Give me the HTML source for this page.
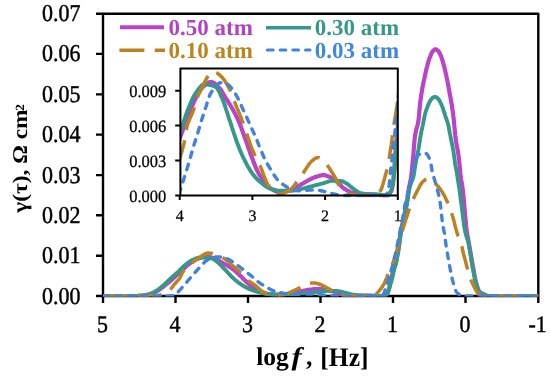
<!DOCTYPE html>
<html><head><meta charset="utf-8"><style>
html,body{margin:0;padding:0;background:#fff;}
svg{display:block;}
text{text-rendering:geometricPrecision;font-family:"Liberation Serif","Times New Roman",serif;}
</style></head><body>
<svg width="550" height="383" viewBox="0 0 550 383">
<rect x="0" y="0" width="550" height="383" fill="#fff"/>
<defs>
<clipPath id="cm"><rect x="103" y="10" width="435.3" height="286.6"/></clipPath>
<clipPath id="ci"><rect x="180.4" y="68.4" width="217.4" height="129"/></clipPath>
</defs>
<!-- main frame -->
<g stroke="#000" stroke-width="2.4" fill="none" stroke-linejoin="round">
<path d="M103 296 V13.8 H538.3 V296 M103 296 H538.3"/>
<path d="M96 13.8H103M96 53.9H103M96 94.4H103M96 134.6H103M96 175.1H103M96 215.3H103M96 255.7H103M96 296H103"/>
<path d="M103 296V303M175.5 296V303M248 296V303M320.5 296V303M393 296V303M465.5 296V303M538.3 296V303"/>
</g>
<g clip-path="url(#cm)">
<path d="M103.0 296.0L103.7 296.0 104.4 296.0 105.2 296.0 105.9 296.0 106.6 296.0 107.3 296.0 108.1 296.0 108.8 296.0 109.5 296.0 110.2 296.0 111.0 296.0 111.7 296.0 112.4 296.0 113.1 296.0 113.9 296.0 114.6 296.0 115.3 296.0 116.0 296.0 116.8 296.0 117.5 296.0 118.2 296.0 118.9 296.0 119.7 296.0 120.4 296.0 121.1 296.0 121.8 296.0 122.6 296.0 123.3 296.0 124.0 296.0 124.7 296.0 125.5 296.0 126.2 296.0 126.9 296.0 127.6 296.0 128.4 296.0 129.1 296.0 129.8 296.0 130.5 296.0 131.3 296.0 132.0 296.0 132.7 296.0 133.4 296.0 134.2 296.0 134.9 296.0 135.6 296.0 136.3 296.0 137.1 296.0 137.8 295.9 138.5 295.9 139.2 295.8 140.0 295.8 140.7 295.7 141.4 295.6 142.1 295.6 142.9 295.5 143.6 295.4 144.3 295.3 145.0 295.2 145.8 295.1 146.5 295.0 147.2 294.8 147.9 294.6 148.7 294.5 149.4 294.3 150.1 294.0 150.8 293.8 151.6 293.6 152.3 293.3 153.0 293.0 153.7 292.8 154.5 292.5 155.2 292.1 155.9 291.8 156.6 291.4 157.4 291.0 158.1 290.5 158.8 290.0 159.5 289.5 160.3 289.0 161.0 288.5 161.7 287.9 162.4 287.4 163.2 286.8 163.9 286.2 164.6 285.6 165.3 285.0 166.1 284.4 166.8 283.9 167.5 283.3 168.2 282.7 169.0 282.1 169.7 281.5 170.4 280.9 171.1 280.2 171.9 279.6 172.6 278.9 173.3 278.2 174.0 277.6 174.8 276.9 175.5 276.2 176.2 275.6 176.9 274.9 177.7 274.2 178.4 273.6 179.1 272.9 179.8 272.2 180.6 271.5 181.3 270.9 182.0 270.2 182.7 269.5 183.5 268.9 184.2 268.2 184.9 267.6 185.6 266.9 186.4 266.3 187.1 265.6 187.8 265.0 188.5 264.4 189.3 263.9 190.0 263.3 190.7 262.8 191.4 262.3 192.2 261.8 192.9 261.3 193.6 260.8 194.3 260.3 195.1 259.9 195.8 259.5 196.5 259.2 197.2 258.9 198.0 258.7 198.7 258.4 199.4 258.2 200.1 257.9 200.9 257.7 201.6 257.5 202.3 257.3 203.0 257.1 203.8 257.0 204.5 256.9 205.2 256.8 205.9 256.7 206.7 256.7 207.4 256.7 208.1 256.8 208.8 256.9 209.6 257.0 210.3 257.2 211.0 257.4 211.7 257.6 212.5 257.9 213.2 258.1 213.9 258.4 214.6 258.7 215.4 258.9 216.1 259.2 216.8 259.6 217.5 260.0 218.3 260.4 219.0 260.8 219.7 261.3 220.4 261.7 221.2 262.1 221.9 262.5 222.6 262.9 223.3 263.3 224.1 263.7 224.8 264.1 225.5 264.5 226.2 264.9 227.0 265.3 227.7 265.7 228.4 266.2 229.1 266.6 229.9 267.1 230.6 267.6 231.3 268.1 232.0 268.6 232.8 269.1 233.5 269.6 234.2 270.2 234.9 270.8 235.7 271.4 236.4 272.1 237.1 272.7 237.8 273.4 238.6 274.1 239.3 274.8 240.0 275.6 240.7 276.2 241.5 276.9 242.2 277.7 242.9 278.4 243.6 279.1 244.4 279.8 245.1 280.6 245.8 281.3 246.5 282.0 247.3 282.6 248.0 283.3 248.7 284.0 249.4 284.6 250.2 285.3 250.9 285.9 251.6 286.5 252.3 287.0 253.1 287.5 253.8 288.0 254.5 288.5 255.2 288.9 256.0 289.3 256.7 289.7 257.4 290.1 258.1 290.5 258.9 290.8 259.6 291.2 260.3 291.5 261.0 291.8 261.8 292.1 262.5 292.4 263.2 292.6 263.9 292.9 264.7 293.1 265.4 293.3 266.1 293.5 266.8 293.7 267.6 293.9 268.3 294.0 269.0 294.1 269.7 294.3 270.5 294.4 271.2 294.5 271.9 294.6 272.6 294.7 273.4 294.7 274.1 294.8 274.8 294.8 275.5 294.8 276.3 294.8 277.0 294.7 277.7 294.7 278.4 294.7 279.2 294.6 279.9 294.6 280.6 294.5 281.3 294.5 282.1 294.4 282.8 294.4 283.5 294.3 284.2 294.3 285.0 294.2 285.7 294.1 286.4 294.0 287.1 293.9 287.9 293.8 288.6 293.6 289.3 293.5 290.0 293.4 290.8 293.3 291.5 293.2 292.2 293.1 292.9 292.9 293.7 292.8 294.4 292.6 295.1 292.5 295.8 292.3 296.6 292.2 297.3 292.0 298.0 291.9 298.7 291.7 299.5 291.6 300.2 291.4 300.9 291.3 301.6 291.2 302.4 291.0 303.1 290.9 303.8 290.7 304.5 290.6 305.3 290.5 306.0 290.3 306.7 290.2 307.4 290.1 308.2 289.9 308.9 289.8 309.6 289.7 310.3 289.6 311.1 289.6 311.8 289.5 312.5 289.4 313.2 289.3 314.0 289.2 314.7 289.2 315.4 289.1 316.1 289.1 316.9 289.0 317.6 289.0 318.3 289.0 319.0 288.9 319.8 289.0 320.5 289.0 321.2 289.1 321.9 289.1 322.7 289.2 323.4 289.3 324.1 289.4 324.8 289.6 325.6 289.7 326.3 289.8 327.0 289.9 327.7 290.1 328.5 290.2 329.2 290.4 329.9 290.6 330.6 290.8 331.4 291.0 332.1 291.2 332.8 291.4 333.5 291.6 334.3 291.8 335.0 292.1 335.7 292.4 336.4 292.7 337.2 292.9 337.9 293.2 338.6 293.4 339.3 293.6 340.1 293.7 340.8 293.9 341.5 294.1 342.2 294.2 343.0 294.3 343.7 294.5 344.4 294.6 345.1 294.7 345.9 294.8 346.6 294.9 347.3 295.0 348.0 295.1 348.8 295.2 349.5 295.2 350.2 295.2 350.9 295.3 351.7 295.3 352.4 295.3 353.1 295.3 353.8 295.4 354.6 295.4 355.3 295.4 356.0 295.4 356.7 295.4 357.5 295.5 358.2 295.5 358.9 295.5 359.6 295.5 360.4 295.5 361.1 295.5 361.8 295.5 362.5 295.6 363.3 295.6 364.0 295.6 364.7 295.6 365.4 295.6 366.2 295.7 366.9 295.7 367.6 295.7 368.3 295.7 369.1 295.7 369.8 295.8 370.5 295.8 371.2 295.8 372.0 295.8 372.7 295.8 373.4 295.8 374.1 295.9 374.9 295.9 375.6 295.9 376.3 295.9 377.0 295.9 377.8 295.9 378.5 296.0 379.2 296.0 379.9 296.0 380.7 296.0 381.4 296.0 382.1 296.0 382.8 296.0 383.6 295.9 384.3 295.7 385.0 295.3 385.7 294.9 386.5 294.4 387.2 293.7 387.9 292.5 388.6 290.6 389.4 287.0 390.1 283.5 390.8 280.1 391.5 277.2 392.3 274.6 393.0 272.2 393.7 269.8 394.4 267.6 395.2 265.5 395.9 262.9 396.6 259.5 397.3 255.3 398.1 250.7 398.8 246.0 399.5 240.8 400.2 235.6 401.0 231.1 401.7 227.4 402.4 224.0 403.1 220.7 403.9 217.2 404.6 213.8 405.3 210.2 406.0 206.5 406.8 202.4 407.5 197.7 408.2 192.7 408.9 188.0 409.7 184.4 410.4 181.3 411.1 177.6 411.8 170.9 412.6 162.1 413.3 155.6 414.0 146.2 414.7 138.3 415.5 133.1 416.2 129.6 416.9 127.5 417.6 125.2 418.4 120.9 419.1 114.5 419.8 106.7 420.5 100.1 421.3 94.7 422.0 90.3 422.7 86.4 423.4 82.9 424.2 79.4 424.9 75.9 425.6 72.6 426.3 69.4 427.1 66.6 427.8 63.8 428.5 61.3 429.2 59.0 430.0 57.0 430.7 55.2 431.4 53.5 432.1 52.1 432.9 51.2 433.6 50.5 434.3 49.8 435.0 49.4 435.8 49.3 436.5 49.6 437.2 50.1 437.9 50.7 438.7 51.5 439.4 52.6 440.1 54.1 440.8 55.9 441.6 57.8 442.3 59.9 443.0 62.3 443.7 64.9 444.5 67.7 445.2 70.7 445.9 73.9 446.6 77.3 447.4 80.8 448.1 84.5 448.8 88.4 449.5 92.5 450.3 96.4 451.0 100.3 451.7 104.4 452.4 109.2 453.2 114.6 453.9 121.3 454.6 128.4 455.3 135.5 456.1 141.6 456.8 145.7 457.5 149.2 458.2 153.3 459.0 159.4 459.7 166.4 460.4 173.8 461.1 179.3 461.9 183.7 462.6 188.3 463.3 194.3 464.0 202.4 464.8 211.0 465.5 219.0 466.2 226.8 466.9 232.4 467.7 236.7 468.4 240.5 469.1 244.4 469.8 248.6 470.6 252.9 471.3 257.2 472.0 261.4 472.7 265.3 473.5 269.4 474.2 273.4 474.9 277.2 475.6 280.7 476.4 283.5 477.1 286.0 477.8 288.2 478.5 290.1 479.3 291.4 480.0 292.1 480.7 292.7 481.4 293.1 482.2 293.5 482.9 293.8 483.6 294.1 484.3 294.5 485.1 294.9 485.8 295.3 486.5 295.6 487.2 295.9 488.0 296.0 488.7 296.0 489.4 296.0 490.1 296.0 490.9 296.0 491.6 296.0 492.3 296.0 493.0 296.0 493.8 296.0 494.5 296.0 495.2 296.0 495.9 296.0 496.7 296.0 497.4 296.0 498.1 296.0 498.8 296.0 499.6 296.0 500.3 296.0 501.0 296.0 501.7 296.0 502.5 296.0 503.2 296.0 503.9 296.0 504.6 296.0 505.4 296.0 506.1 296.0 506.8 296.0 507.5 296.0 508.3 296.0 509.0 296.0 509.7 296.0 510.4 296.0 511.2 296.0 511.9 296.0 512.6 296.0 513.3 296.0 514.1 296.0 514.8 296.0 515.5 296.0 516.2 296.0 517.0 296.0 517.7 296.0 518.4 296.0 519.1 296.0 519.9 296.0 520.6 296.0 521.3 296.0 522.0 296.0 522.8 296.0 523.5 296.0 524.2 296.0 524.9 296.0 525.7 296.0 526.4 296.0 527.1 296.0 527.8 296.0 528.6 296.0 529.3 296.0 530.0 296.0 530.7 296.0 531.5 296.0 532.2 296.0 532.9 296.0 533.6 296.0 534.4 296.0 535.1 296.0 535.8 296.0 536.5 296.0 537.3 296.0 538.0 296.0" fill="none" stroke="#bc43c9" stroke-width="4.2" stroke-linejoin="round" stroke-linecap="round"/>
<path d="M103.0 296.0L103.7 296.0 104.4 296.0 105.2 296.0 105.9 296.0 106.6 296.0 107.3 296.0 108.1 296.0 108.8 296.0 109.5 296.0 110.2 296.0 111.0 296.0 111.7 296.0 112.4 296.0 113.1 296.0 113.9 296.0 114.6 296.0 115.3 296.0 116.0 296.0 116.8 296.0 117.5 296.0 118.2 296.0 118.9 296.0 119.7 296.0 120.4 296.0 121.1 296.0 121.8 296.0 122.6 296.0 123.3 296.0 124.0 296.0 124.7 296.0 125.5 296.0 126.2 296.0 126.9 296.0 127.6 296.0 128.4 296.0 129.1 296.0 129.8 296.0 130.5 296.0 131.3 296.0 132.0 296.0 132.7 296.0 133.4 296.0 134.2 296.0 134.9 296.0 135.6 295.9 136.3 295.9 137.1 295.9 137.8 295.9 138.5 295.8 139.2 295.8 140.0 295.8 140.7 295.7 141.4 295.7 142.1 295.6 142.9 295.6 143.6 295.5 144.3 295.5 145.0 295.4 145.8 295.2 146.5 295.1 147.2 294.9 147.9 294.8 148.7 294.6 149.4 294.4 150.1 294.1 150.8 293.8 151.6 293.5 152.3 293.1 153.0 292.7 153.7 292.3 154.5 291.9 155.2 291.4 155.9 291.0 156.6 290.6 157.4 290.1 158.1 289.6 158.8 289.0 159.5 288.5 160.3 287.9 161.0 287.3 161.7 286.7 162.4 286.1 163.2 285.5 163.9 284.9 164.6 284.2 165.3 283.6 166.1 282.9 166.8 282.2 167.5 281.5 168.2 280.7 169.0 280.0 169.7 279.3 170.4 278.7 171.1 278.0 171.9 277.4 172.6 276.7 173.3 276.1 174.0 275.5 174.8 274.8 175.5 274.2 176.2 273.5 176.9 272.9 177.7 272.2 178.4 271.5 179.1 270.8 179.8 270.0 180.6 269.3 181.3 268.5 182.0 267.8 182.7 267.1 183.5 266.4 184.2 265.8 184.9 265.2 185.6 264.6 186.4 264.0 187.1 263.4 187.8 262.8 188.5 262.3 189.3 261.8 190.0 261.3 190.7 260.9 191.4 260.5 192.2 260.2 192.9 259.8 193.6 259.5 194.3 259.1 195.1 258.8 195.8 258.5 196.5 258.2 197.2 258.0 198.0 257.8 198.7 257.6 199.4 257.5 200.1 257.5 200.9 257.5 201.6 257.5 202.3 257.6 203.0 257.6 203.8 257.6 204.5 257.7 205.2 257.7 205.9 257.8 206.7 257.8 207.4 257.9 208.1 257.9 208.8 258.0 209.6 258.1 210.3 258.2 211.0 258.4 211.7 258.5 212.5 258.7 213.2 259.0 213.9 259.4 214.6 259.9 215.4 260.4 216.1 261.0 216.8 261.6 217.5 262.1 218.3 262.7 219.0 263.4 219.7 264.1 220.4 264.8 221.2 265.5 221.9 266.3 222.6 267.1 223.3 267.9 224.1 268.7 224.8 269.5 225.5 270.2 226.2 270.9 227.0 271.7 227.7 272.5 228.4 273.2 229.1 274.0 229.9 274.8 230.6 275.6 231.3 276.3 232.0 277.0 232.8 277.7 233.5 278.4 234.2 279.1 234.9 279.7 235.7 280.3 236.4 280.9 237.1 281.5 237.8 282.0 238.6 282.6 239.3 283.1 240.0 283.7 240.7 284.2 241.5 284.6 242.2 285.1 242.9 285.6 243.6 286.0 244.4 286.5 245.1 286.9 245.8 287.3 246.5 287.7 247.3 288.1 248.0 288.4 248.7 288.7 249.4 289.1 250.2 289.4 250.9 289.6 251.6 289.9 252.3 290.2 253.1 290.4 253.8 290.7 254.5 290.9 255.2 291.2 256.0 291.4 256.7 291.6 257.4 291.8 258.1 292.0 258.9 292.2 259.6 292.4 260.3 292.6 261.0 292.8 261.8 292.9 262.5 293.1 263.2 293.2 263.9 293.4 264.7 293.5 265.4 293.6 266.1 293.7 266.8 293.7 267.6 293.8 268.3 293.9 269.0 294.0 269.7 294.0 270.5 294.1 271.2 294.2 271.9 294.2 272.6 294.3 273.4 294.3 274.1 294.3 274.8 294.4 275.5 294.4 276.3 294.4 277.0 294.4 277.7 294.4 278.4 294.4 279.2 294.4 279.9 294.4 280.6 294.4 281.3 294.4 282.1 294.4 282.8 294.4 283.5 294.4 284.2 294.4 285.0 294.4 285.7 294.4 286.4 294.4 287.1 294.4 287.9 294.3 288.6 294.3 289.3 294.3 290.0 294.2 290.8 294.2 291.5 294.1 292.2 294.1 292.9 294.0 293.7 294.0 294.4 293.9 295.1 293.9 295.8 293.8 296.6 293.8 297.3 293.7 298.0 293.6 298.7 293.6 299.5 293.5 300.2 293.4 300.9 293.4 301.6 293.3 302.4 293.2 303.1 293.2 303.8 293.1 304.5 293.0 305.3 293.0 306.0 292.9 306.7 292.8 307.4 292.8 308.2 292.7 308.9 292.6 309.6 292.6 310.3 292.5 311.1 292.4 311.8 292.4 312.5 292.3 313.2 292.3 314.0 292.2 314.7 292.1 315.4 292.1 316.1 292.0 316.9 291.9 317.6 291.9 318.3 291.8 319.0 291.7 319.8 291.6 320.5 291.5 321.2 291.4 321.9 291.4 322.7 291.3 323.4 291.2 324.1 291.1 324.8 291.1 325.6 291.0 326.3 290.9 327.0 290.9 327.7 290.9 328.5 290.9 329.2 290.9 329.9 290.9 330.6 290.9 331.4 290.9 332.1 290.9 332.8 290.9 333.5 290.9 334.3 290.9 335.0 291.0 335.7 291.0 336.4 291.0 337.2 291.0 337.9 291.1 338.6 291.2 339.3 291.3 340.1 291.5 340.8 291.6 341.5 291.8 342.2 291.9 343.0 292.1 343.7 292.3 344.4 292.5 345.1 292.7 345.9 292.9 346.6 293.1 347.3 293.3 348.0 293.5 348.8 293.7 349.5 293.8 350.2 294.0 350.9 294.2 351.7 294.4 352.4 294.6 353.1 294.7 353.8 294.9 354.6 295.0 355.3 295.1 356.0 295.2 356.7 295.3 357.5 295.3 358.2 295.4 358.9 295.4 359.6 295.5 360.4 295.5 361.1 295.5 361.8 295.6 362.5 295.6 363.3 295.6 364.0 295.6 364.7 295.6 365.4 295.6 366.2 295.6 366.9 295.6 367.6 295.6 368.3 295.6 369.1 295.6 369.8 295.6 370.5 295.6 371.2 295.6 372.0 295.6 372.7 295.6 373.4 295.6 374.1 295.7 374.9 295.7 375.6 295.7 376.3 295.8 377.0 295.8 377.8 295.9 378.5 295.9 379.2 295.9 379.9 296.0 380.7 296.0 381.4 296.0 382.1 296.0 382.8 295.9 383.6 295.8 384.3 295.5 385.0 295.2 385.7 294.8 386.5 294.3 387.2 293.4 387.9 292.4 388.6 290.6 389.4 288.1 390.1 285.6 390.8 283.3 391.5 280.9 392.3 278.1 393.0 274.7 393.7 271.3 394.4 268.4 395.2 265.8 395.9 263.2 396.6 260.1 397.3 256.6 398.1 252.7 398.8 248.4 399.5 243.4 400.2 237.8 401.0 232.8 401.7 228.8 402.4 225.5 403.1 222.3 403.9 219.0 404.6 215.6 405.3 212.3 406.0 208.8 406.8 205.2 407.5 201.2 408.2 196.3 408.9 191.4 409.7 187.6 410.4 184.9 411.1 182.9 411.8 181.2 412.6 179.3 413.3 177.1 414.0 174.0 414.7 168.9 415.5 164.2 416.2 160.6 416.9 157.2 417.6 153.7 418.4 149.6 419.1 145.2 419.8 140.7 420.5 136.1 421.3 131.8 422.0 128.6 422.7 125.6 423.4 122.2 424.2 118.1 424.9 114.5 425.6 111.9 426.3 109.8 427.1 107.9 427.8 106.0 428.5 104.2 429.2 102.7 430.0 101.3 430.7 100.1 431.4 99.0 432.1 98.2 432.9 97.7 433.6 97.3 434.3 97.0 435.0 96.9 435.8 97.1 436.5 97.4 437.2 97.9 437.9 98.5 438.7 99.4 439.4 100.6 440.1 101.8 440.8 103.3 441.6 104.9 442.3 106.7 443.0 108.7 443.7 110.9 444.5 113.2 445.2 115.5 445.9 117.6 446.6 119.7 447.4 122.0 448.1 124.3 448.8 127.3 449.5 131.4 450.3 135.5 451.0 139.0 451.7 142.3 452.4 145.8 453.2 149.7 453.9 154.5 454.6 160.0 455.3 165.0 456.1 169.1 456.8 173.0 457.5 177.3 458.2 181.8 459.0 186.6 459.7 191.6 460.4 196.9 461.1 202.5 461.9 208.1 462.6 213.7 463.3 219.6 464.0 225.3 464.8 229.9 465.5 233.1 466.2 235.7 466.9 237.9 467.7 240.2 468.4 242.8 469.1 246.2 469.8 250.4 470.6 255.1 471.3 259.9 472.0 264.2 472.7 268.1 473.5 272.0 474.2 275.8 474.9 279.2 475.6 282.2 476.4 284.7 477.1 287.0 477.8 289.1 478.5 290.7 479.3 291.7 480.0 292.4 480.7 292.9 481.4 293.3 482.2 293.7 482.9 294.0 483.6 294.4 484.3 294.8 485.1 295.2 485.8 295.6 486.5 295.9 487.2 296.0 488.0 296.0 488.7 296.0 489.4 296.0 490.1 296.0 490.9 296.0 491.6 296.0 492.3 296.0 493.0 296.0 493.8 296.0 494.5 296.0 495.2 296.0 495.9 296.0 496.7 296.0 497.4 296.0 498.1 296.0 498.8 296.0 499.6 296.0 500.3 296.0 501.0 296.0 501.7 296.0 502.5 296.0 503.2 296.0 503.9 296.0 504.6 296.0 505.4 296.0 506.1 296.0 506.8 296.0 507.5 296.0 508.3 296.0 509.0 296.0 509.7 296.0 510.4 296.0 511.2 296.0 511.9 296.0 512.6 296.0 513.3 296.0 514.1 296.0 514.8 296.0 515.5 296.0 516.2 296.0 517.0 296.0 517.7 296.0 518.4 296.0 519.1 296.0 519.9 296.0 520.6 296.0 521.3 296.0 522.0 296.0 522.8 296.0 523.5 296.0 524.2 296.0 524.9 296.0 525.7 296.0 526.4 296.0 527.1 296.0 527.8 296.0 528.6 296.0 529.3 296.0 530.0 296.0 530.7 296.0 531.5 296.0 532.2 296.0 532.9 296.0 533.6 296.0 534.4 296.0 535.1 296.0 535.8 296.0 536.5 296.0 537.3 296.0 538.0 296.0" fill="none" stroke="#35998a" stroke-width="3.9" stroke-linejoin="round" stroke-linecap="round"/>
<path d="M103.0 296.0L103.7 296.0 104.4 296.0 105.2 296.0 105.9 296.0 106.6 296.0 107.3 296.0 108.1 296.0 108.8 296.0 109.5 296.0 110.2 296.0 111.0 296.0 111.7 296.0 112.4 296.0 113.1 296.0 113.9 296.0 114.6 296.0 115.3 296.0 116.0 296.0 116.8 296.0 117.5 296.0 118.2 296.0 118.9 296.0 119.7 296.0 120.4 296.0 121.1 296.0 121.8 296.0 122.6 296.0 123.3 296.0 124.0 296.0 124.7 296.0 125.5 296.0 126.2 296.0 126.9 296.0 127.6 296.0 128.4 296.0 129.1 296.0 129.8 296.0 130.5 296.0 131.3 296.0 132.0 296.0 132.7 296.0 133.4 296.0 134.2 296.0 134.9 296.0 135.6 296.0 136.3 296.0 137.1 296.0 137.8 296.0 138.5 296.0 139.2 296.0 140.0 296.0 140.7 296.0 141.4 296.0 142.1 296.0 142.9 296.0 143.6 296.0 144.3 296.0 145.0 296.0 145.8 296.0 146.5 296.0 147.2 296.0 147.9 296.0 148.7 296.0 149.4 296.0 150.1 296.0 150.8 296.0 151.6 296.0 152.3 296.0 153.0 295.9 153.7 295.9 154.5 295.8 155.2 295.8 155.9 295.7 156.6 295.7 157.4 295.6 158.1 295.5 158.8 295.4 159.5 295.2 160.3 295.0 161.0 294.8 161.7 294.6 162.4 294.3 163.2 294.1 163.9 293.8 164.6 293.4 165.3 293.1 166.1 292.7 166.8 292.3 167.5 291.8 168.2 291.3 169.0 290.8 169.7 290.1 170.4 289.4 171.1 288.5 171.9 287.6 172.6 286.7 173.3 285.7 174.0 284.8 174.8 284.0 175.5 283.2 176.2 282.4 176.9 281.6 177.7 280.7 178.4 279.9 179.1 278.9 179.8 277.9 180.6 276.5 181.3 275.0 182.0 273.4 182.7 272.2 183.5 271.3 184.2 270.6 184.9 269.9 185.6 269.3 186.4 268.8 187.1 268.2 187.8 267.7 188.5 267.1 189.3 266.4 190.0 265.6 190.7 264.7 191.4 263.8 192.2 262.9 192.9 262.2 193.6 261.6 194.3 261.1 195.1 260.6 195.8 260.1 196.5 259.6 197.2 259.1 198.0 258.5 198.7 258.0 199.4 257.4 200.1 256.9 200.9 256.4 201.6 255.9 202.3 255.5 203.0 255.0 203.8 254.6 204.5 254.2 205.2 253.8 205.9 253.4 206.7 253.2 207.4 253.1 208.1 253.1 208.8 253.1 209.6 253.2 210.3 253.2 211.0 253.3 211.7 253.4 212.5 253.5 213.2 253.7 213.9 253.9 214.6 254.1 215.4 254.3 216.1 254.5 216.8 254.8 217.5 255.0 218.3 255.3 219.0 255.6 219.7 255.9 220.4 256.3 221.2 256.7 221.9 257.1 222.6 257.5 223.3 258.0 224.1 258.4 224.8 258.9 225.5 259.4 226.2 260.0 227.0 260.6 227.7 261.2 228.4 261.9 229.1 262.6 229.9 263.3 230.6 263.9 231.3 264.6 232.0 265.2 232.8 265.8 233.5 266.4 234.2 267.0 234.9 267.6 235.7 268.2 236.4 268.8 237.1 269.4 237.8 270.1 238.6 270.7 239.3 271.4 240.0 272.1 240.7 272.9 241.5 273.6 242.2 274.4 242.9 275.2 243.6 275.9 244.4 276.7 245.1 277.4 245.8 278.1 246.5 278.8 247.3 279.5 248.0 280.2 248.7 280.8 249.4 281.4 250.2 281.9 250.9 282.4 251.6 282.9 252.3 283.4 253.1 283.9 253.8 284.3 254.5 284.8 255.2 285.4 256.0 285.9 256.7 286.5 257.4 287.2 258.1 287.9 258.9 288.6 259.6 289.2 260.3 289.9 261.0 290.5 261.8 291.1 262.5 291.6 263.2 292.0 263.9 292.5 264.7 292.9 265.4 293.2 266.1 293.6 266.8 293.9 267.6 294.1 268.3 294.3 269.0 294.5 269.7 294.7 270.5 294.9 271.2 295.1 271.9 295.2 272.6 295.3 273.4 295.4 274.1 295.5 274.8 295.5 275.5 295.5 276.3 295.4 277.0 295.4 277.7 295.3 278.4 295.3 279.2 295.2 279.9 295.1 280.6 295.0 281.3 294.9 282.1 294.8 282.8 294.6 283.5 294.5 284.2 294.4 285.0 294.2 285.7 294.1 286.4 293.8 287.1 293.6 287.9 293.3 288.6 293.0 289.3 292.7 290.0 292.4 290.8 292.1 291.5 291.7 292.2 291.4 292.9 291.0 293.7 290.7 294.4 290.3 295.1 290.0 295.8 289.7 296.6 289.3 297.3 289.0 298.0 288.6 298.7 288.2 299.5 287.8 300.2 287.4 300.9 287.0 301.6 286.6 302.4 286.2 303.1 285.8 303.8 285.5 304.5 285.1 305.3 284.8 306.0 284.5 306.7 284.2 307.4 284.0 308.2 283.8 308.9 283.6 309.6 283.4 310.3 283.3 311.1 283.1 311.8 283.0 312.5 282.9 313.2 282.9 314.0 282.9 314.7 283.0 315.4 283.1 316.1 283.2 316.9 283.4 317.6 283.6 318.3 283.8 319.0 284.0 319.8 284.3 320.5 284.5 321.2 284.8 321.9 285.1 322.7 285.5 323.4 285.8 324.1 286.2 324.8 286.6 325.6 287.0 326.3 287.4 327.0 287.8 327.7 288.2 328.5 288.6 329.2 289.0 329.9 289.4 330.6 289.9 331.4 290.3 332.1 290.8 332.8 291.4 333.5 291.9 334.3 292.4 335.0 292.9 335.7 293.3 336.4 293.7 337.2 293.9 337.9 294.1 338.6 294.3 339.3 294.5 340.1 294.7 340.8 294.9 341.5 295.0 342.2 295.2 343.0 295.3 343.7 295.4 344.4 295.5 345.1 295.6 345.9 295.6 346.6 295.6 347.3 295.7 348.0 295.7 348.8 295.7 349.5 295.7 350.2 295.8 350.9 295.8 351.7 295.8 352.4 295.8 353.1 295.9 353.8 295.9 354.6 295.9 355.3 295.9 356.0 295.9 356.7 295.9 357.5 295.9 358.2 296.0 358.9 296.0 359.6 296.0 360.4 296.0 361.1 296.0 361.8 296.0 362.5 296.0 363.3 296.0 364.0 296.0 364.7 296.0 365.4 296.0 366.2 296.0 366.9 296.0 367.6 296.0 368.3 296.0 369.1 296.0 369.8 296.0 370.5 295.9 371.2 295.8 372.0 295.6 372.7 295.4 373.4 295.2 374.1 295.0 374.9 294.7 375.6 294.4 376.3 294.0 377.0 293.4 377.8 292.6 378.5 291.7 379.2 290.8 379.9 289.9 380.7 289.0 381.4 288.0 382.1 287.0 382.8 285.8 383.6 284.6 384.3 283.2 385.0 281.7 385.7 280.1 386.5 278.4 387.2 276.5 387.9 274.4 388.6 272.5 389.4 270.9 390.1 269.4 390.8 267.9 391.5 266.4 392.3 264.8 393.0 262.9 393.7 260.9 394.4 258.7 395.2 256.3 395.9 253.8 396.6 251.3 397.3 248.8 398.1 246.2 398.8 243.5 399.5 240.8 400.2 238.1 401.0 235.5 401.7 233.1 402.4 230.6 403.1 228.2 403.9 225.8 404.6 223.5 405.3 221.2 406.0 219.0 406.8 216.8 407.5 214.6 408.2 212.4 408.9 210.3 409.7 208.2 410.4 206.2 411.1 204.3 411.8 202.5 412.6 200.7 413.3 199.1 414.0 197.5 414.7 195.9 415.5 194.4 416.2 193.0 416.9 191.6 417.6 190.2 418.4 188.8 419.1 187.4 419.8 186.0 420.5 184.7 421.3 183.6 422.0 182.6 422.7 181.8 423.4 181.2 424.2 180.6 424.9 180.0 425.6 179.5 426.3 179.1 427.1 178.8 427.8 178.7 428.5 178.8 429.2 179.0 430.0 179.5 430.7 180.0 431.4 180.5 432.1 181.0 432.9 181.5 433.6 182.1 434.3 182.7 435.0 183.4 435.8 184.0 436.5 184.7 437.2 185.5 437.9 186.3 438.7 187.1 439.4 188.0 440.1 189.0 440.8 190.0 441.6 191.0 442.3 192.2 443.0 193.4 443.7 194.7 444.5 196.0 445.2 197.4 445.9 198.9 446.6 200.4 447.4 202.0 448.1 203.7 448.8 205.4 449.5 207.3 450.3 209.2 451.0 211.2 451.7 213.4 452.4 215.8 453.2 218.3 453.9 220.9 454.6 223.6 455.3 226.6 456.1 229.6 456.8 232.1 457.5 234.2 458.2 236.0 459.0 237.6 459.7 239.3 460.4 241.3 461.1 243.7 461.9 246.6 462.6 249.9 463.3 253.0 464.0 255.8 464.8 258.6 465.5 261.3 466.2 264.0 466.9 266.7 467.7 269.3 468.4 271.8 469.1 274.2 469.8 276.5 470.6 278.6 471.3 280.6 472.0 282.4 472.7 284.0 473.5 285.5 474.2 287.0 474.9 288.4 475.6 289.7 476.4 291.0 477.1 292.1 477.8 293.0 478.5 293.8 479.3 294.3 480.0 294.7 480.7 295.0 481.4 295.3 482.2 295.6 482.9 295.8 483.6 296.0 484.3 296.0 485.1 296.0 485.8 296.0 486.5 296.0 487.2 296.0 488.0 296.0 488.7 296.0 489.4 296.0 490.1 296.0 490.9 296.0 491.6 296.0 492.3 296.0 493.0 296.0 493.8 296.0 494.5 296.0 495.2 296.0 495.9 296.0 496.7 296.0 497.4 296.0 498.1 296.0 498.8 296.0 499.6 296.0 500.3 296.0 501.0 296.0 501.7 296.0 502.5 296.0 503.2 296.0 503.9 296.0 504.6 296.0 505.4 296.0 506.1 296.0 506.8 296.0 507.5 296.0 508.3 296.0 509.0 296.0 509.7 296.0 510.4 296.0 511.2 296.0 511.9 296.0 512.6 296.0 513.3 296.0 514.1 296.0 514.8 296.0 515.5 296.0 516.2 296.0 517.0 296.0 517.7 296.0 518.4 296.0 519.1 296.0 519.9 296.0 520.6 296.0 521.3 296.0 522.0 296.0 522.8 296.0 523.5 296.0 524.2 296.0 524.9 296.0 525.7 296.0 526.4 296.0 527.1 296.0 527.8 296.0 528.6 296.0 529.3 296.0 530.0 296.0 530.7 296.0 531.5 296.0 532.2 296.0 532.9 296.0 533.6 296.0 534.4 296.0 535.1 296.0 535.8 296.0 536.5 296.0 537.3 296.0 538.0 296.0" fill="none" stroke="#bd8120" stroke-width="3.5" stroke-linejoin="round" stroke-linecap="butt" stroke-dasharray="24 10.5"/>
<path d="M103.0 296.0L103.7 296.0 104.4 296.0 105.2 296.0 105.9 296.0 106.6 296.0 107.3 296.0 108.1 296.0 108.8 296.0 109.5 296.0 110.2 296.0 111.0 296.0 111.7 296.0 112.4 296.0 113.1 296.0 113.9 296.0 114.6 296.0 115.3 296.0 116.0 296.0 116.8 296.0 117.5 296.0 118.2 296.0 118.9 296.0 119.7 296.0 120.4 296.0 121.1 296.0 121.8 296.0 122.6 296.0 123.3 296.0 124.0 296.0 124.7 296.0 125.5 296.0 126.2 296.0 126.9 296.0 127.6 296.0 128.4 296.0 129.1 296.0 129.8 296.0 130.5 296.0 131.3 296.0 132.0 296.0 132.7 296.0 133.4 296.0 134.2 296.0 134.9 296.0 135.6 296.0 136.3 296.0 137.1 296.0 137.8 296.0 138.5 296.0 139.2 296.0 140.0 296.0 140.7 296.0 141.4 296.0 142.1 296.0 142.9 296.0 143.6 296.0 144.3 296.0 145.0 296.0 145.8 296.0 146.5 296.0 147.2 296.0 147.9 296.0 148.7 296.0 149.4 296.0 150.1 296.0 150.8 296.0 151.6 296.0 152.3 296.0 153.0 296.0 153.7 296.0 154.5 296.0 155.2 296.0 155.9 296.0 156.6 296.0 157.4 296.0 158.1 296.0 158.8 296.0 159.5 296.0 160.3 296.0 161.0 296.0 161.7 296.0 162.4 296.0 163.2 296.0 163.9 296.0 164.6 296.0 165.3 296.0 166.1 296.0 166.8 296.0 167.5 296.0 168.2 296.0 169.0 296.0 169.7 296.0 170.4 295.9 171.1 295.9 171.9 295.8 172.6 295.7 173.3 295.6 174.0 295.4 174.8 295.0 175.5 294.5 176.2 293.9 176.9 293.3 177.7 292.5 178.4 291.7 179.1 290.8 179.8 290.0 180.6 289.2 181.3 288.4 182.0 287.6 182.7 286.8 183.5 286.0 184.2 285.1 184.9 284.3 185.6 283.4 186.4 282.6 187.1 281.7 187.8 280.8 188.5 279.9 189.3 279.1 190.0 278.2 190.7 277.4 191.4 276.6 192.2 275.8 192.9 275.0 193.6 274.2 194.3 273.4 195.1 272.5 195.8 271.7 196.5 270.9 197.2 270.0 198.0 269.2 198.7 268.4 199.4 267.7 200.1 266.9 200.9 266.1 201.6 265.4 202.3 264.6 203.0 263.8 203.8 263.0 204.5 262.2 205.2 261.5 205.9 260.9 206.7 260.5 207.4 260.0 208.1 259.6 208.8 259.3 209.6 259.0 210.3 258.7 211.0 258.4 211.7 258.1 212.5 257.8 213.2 257.5 213.9 257.3 214.6 257.1 215.4 257.0 216.1 257.0 216.8 257.0 217.5 257.0 218.3 257.0 219.0 257.0 219.7 257.0 220.4 257.0 221.2 257.0 221.9 257.1 222.6 257.3 223.3 257.5 224.1 257.7 224.8 257.9 225.5 258.2 226.2 258.4 227.0 258.7 227.7 259.0 228.4 259.4 229.1 259.7 229.9 260.1 230.6 260.5 231.3 260.9 232.0 261.4 232.8 261.9 233.5 262.3 234.2 262.9 234.9 263.4 235.7 263.9 236.4 264.5 237.1 265.0 237.8 265.6 238.6 266.1 239.3 266.7 240.0 267.2 240.7 267.7 241.5 268.3 242.2 268.8 242.9 269.4 243.6 270.0 244.4 270.5 245.1 271.1 245.8 271.6 246.5 272.2 247.3 272.8 248.0 273.3 248.7 273.9 249.4 274.4 250.2 275.0 250.9 275.6 251.6 276.1 252.3 276.8 253.1 277.4 253.8 278.0 254.5 278.6 255.2 279.3 256.0 279.9 256.7 280.5 257.4 281.1 258.1 281.7 258.9 282.3 259.6 282.8 260.3 283.4 261.0 283.9 261.8 284.3 262.5 284.8 263.2 285.2 263.9 285.7 264.7 286.1 265.4 286.5 266.1 286.9 266.8 287.3 267.6 287.7 268.3 288.2 269.0 288.6 269.7 289.0 270.5 289.4 271.2 289.7 271.9 290.1 272.6 290.4 273.4 290.7 274.1 290.9 274.8 291.2 275.5 291.4 276.3 291.6 277.0 291.8 277.7 292.0 278.4 292.2 279.2 292.3 279.9 292.5 280.6 292.7 281.3 292.8 282.1 293.0 282.8 293.1 283.5 293.3 284.2 293.4 285.0 293.6 285.7 293.7 286.4 293.8 287.1 293.9 287.9 293.9 288.6 294.0 289.3 294.1 290.0 294.1 290.8 294.2 291.5 294.2 292.2 294.3 292.9 294.3 293.7 294.4 294.4 294.4 295.1 294.4 295.8 294.4 296.6 294.4 297.3 294.4 298.0 294.3 298.7 294.3 299.5 294.3 300.2 294.3 300.9 294.2 301.6 294.2 302.4 294.2 303.1 294.2 303.8 294.1 304.5 294.1 305.3 294.1 306.0 294.1 306.7 294.1 307.4 294.1 308.2 294.1 308.9 294.1 309.6 294.1 310.3 294.1 311.1 294.1 311.8 294.2 312.5 294.2 313.2 294.2 314.0 294.2 314.7 294.2 315.4 294.3 316.1 294.3 316.9 294.4 317.6 294.4 318.3 294.5 319.0 294.6 319.8 294.6 320.5 294.7 321.2 294.7 321.9 294.8 322.7 294.9 323.4 294.9 324.1 295.0 324.8 295.1 325.6 295.2 326.3 295.2 327.0 295.3 327.7 295.4 328.5 295.4 329.2 295.5 329.9 295.5 330.6 295.6 331.4 295.6 332.1 295.7 332.8 295.7 333.5 295.8 334.3 295.8 335.0 295.9 335.7 295.9 336.4 296.0 337.2 296.0 337.9 296.0 338.6 296.0 339.3 296.0 340.1 296.0 340.8 296.0 341.5 296.0 342.2 296.0 343.0 296.0 343.7 296.0 344.4 296.0 345.1 296.0 345.9 296.0 346.6 296.0 347.3 296.0 348.0 296.0 348.8 296.0 349.5 296.0 350.2 296.0 350.9 296.0 351.7 296.0 352.4 296.0 353.1 296.0 353.8 296.0 354.6 296.0 355.3 296.0 356.0 296.0 356.7 296.0 357.5 296.0 358.2 296.0 358.9 296.0 359.6 296.0 360.4 296.0 361.1 296.0 361.8 296.0 362.5 296.0 363.3 296.0 364.0 296.0 364.7 296.0 365.4 296.0 366.2 296.0 366.9 296.0 367.6 296.0 368.3 296.0 369.1 296.0 369.8 296.0 370.5 296.0 371.2 296.0 372.0 296.0 372.7 296.0 373.4 296.0 374.1 296.0 374.9 296.0 375.6 296.0 376.3 296.0 377.0 296.0 377.8 296.0 378.5 296.0 379.2 296.0 379.9 296.0 380.7 296.0 381.4 295.8 382.1 295.4 382.8 294.7 383.6 293.9 384.3 292.5 385.0 290.1 385.7 287.6 386.5 285.4 387.2 283.2 387.9 281.0 388.6 278.8 389.4 276.5 390.1 274.1 390.8 271.7 391.5 269.1 392.3 266.5 393.0 263.8 393.7 260.9 394.4 258.0 395.2 254.9 395.9 251.7 396.6 248.4 397.3 244.9 398.1 241.2 398.8 237.4 399.5 233.7 400.2 230.2 401.0 226.9 401.7 223.5 402.4 219.8 403.1 215.3 403.9 210.6 404.6 206.7 405.3 203.4 406.0 200.4 406.8 197.6 407.5 194.9 408.2 192.2 408.9 189.5 409.7 186.4 410.4 183.2 411.1 179.7 411.8 176.1 412.6 172.5 413.3 169.0 414.0 165.8 414.7 162.8 415.5 160.0 416.2 157.6 416.9 156.3 417.6 155.6 418.4 155.0 419.1 154.5 419.8 154.1 420.5 153.8 421.3 153.6 422.0 153.3 422.7 153.1 423.4 152.9 424.2 152.9 424.9 153.1 425.6 153.3 426.3 153.6 427.1 154.2 427.8 155.2 428.5 156.6 429.2 158.1 430.0 160.0 430.7 162.5 431.4 166.6 432.1 170.9 432.9 174.0 433.6 176.6 434.3 178.9 435.0 181.2 435.8 183.6 436.5 186.2 437.2 189.0 437.9 191.9 438.7 195.0 439.4 198.4 440.1 202.4 440.8 207.8 441.6 215.0 442.3 221.8 443.0 226.3 443.7 229.6 444.5 233.7 445.2 238.9 445.9 244.3 446.6 249.1 447.4 253.6 448.1 257.8 448.8 261.8 449.5 265.7 450.3 269.5 451.0 273.3 451.7 276.7 452.4 279.9 453.2 282.5 453.9 285.1 454.6 287.5 455.3 289.6 456.1 291.3 456.8 292.4 457.5 293.1 458.2 293.8 459.0 294.3 459.7 294.8 460.4 295.2 461.1 295.5 461.9 295.6 462.6 295.7 463.3 295.8 464.0 295.9 464.8 296.0 465.5 296.0 466.2 296.0 466.9 296.0 467.7 296.0 468.4 296.0 469.1 296.0 469.8 296.0 470.6 296.0 471.3 296.0 472.0 296.0 472.7 296.0 473.5 296.0 474.2 296.0 474.9 296.0 475.6 296.0 476.4 296.0 477.1 296.0 477.8 296.0 478.5 296.0 479.3 296.0 480.0 296.0 480.7 296.0 481.4 296.0 482.2 296.0 482.9 296.0 483.6 296.0 484.3 296.0 485.1 296.0 485.8 296.0 486.5 296.0 487.2 296.0 488.0 296.0 488.7 296.0 489.4 296.0 490.1 296.0 490.9 296.0 491.6 296.0 492.3 296.0 493.0 296.0 493.8 296.0 494.5 296.0 495.2 296.0 495.9 296.0 496.7 296.0 497.4 296.0 498.1 296.0 498.8 296.0 499.6 296.0 500.3 296.0 501.0 296.0 501.7 296.0 502.5 296.0 503.2 296.0 503.9 296.0 504.6 296.0 505.4 296.0 506.1 296.0 506.8 296.0 507.5 296.0 508.3 296.0 509.0 296.0 509.7 296.0 510.4 296.0 511.2 296.0 511.9 296.0 512.6 296.0 513.3 296.0 514.1 296.0 514.8 296.0 515.5 296.0 516.2 296.0 517.0 296.0 517.7 296.0 518.4 296.0 519.1 296.0 519.9 296.0 520.6 296.0 521.3 296.0 522.0 296.0 522.8 296.0 523.5 296.0 524.2 296.0 524.9 296.0 525.7 296.0 526.4 296.0 527.1 296.0 527.8 296.0 528.6 296.0 529.3 296.0 530.0 296.0 530.7 296.0 531.5 296.0 532.2 296.0 532.9 296.0 533.6 296.0 534.4 296.0 535.1 296.0 535.8 296.0 536.5 296.0 537.3 296.0 538.0 296.0" fill="none" stroke="#4282de" stroke-width="3.4" stroke-linejoin="round" stroke-linecap="round" stroke-dasharray="5.6 7.2"/>
</g>
<!-- y tick labels -->
<g font-size="22" text-anchor="end" fill="#000" stroke="#000" stroke-width="0.4">
<text id="y0" transform="translate(80.6,20.75) scale(1,1.1)">0.07</text>
<text id="y1" transform="translate(80.6,61.20) scale(1,1.1)">0.06</text>
<text id="y2" transform="translate(80.6,101.65) scale(1,1.1)">0.05</text>
<text id="y3" transform="translate(80.6,142.10) scale(1,1.1)">0.04</text>
<text id="y4" transform="translate(80.6,182.55) scale(1,1.1)">0.03</text>
<text id="y5" transform="translate(80.6,223.00) scale(1,1.1)">0.02</text>
<text id="y6" transform="translate(80.6,263.45) scale(1,1.1)">0.01</text>
<text id="y7" transform="translate(80.6,303.90) scale(1,1.1)">0.00</text>
</g>
<g font-size="21.5" text-anchor="middle" fill="#000" stroke="#000" stroke-width="0.4">
<text id="x0" transform="translate(102.6,331.9) scale(1.02,1.1)">5</text>
<text id="x1" transform="translate(175.1,331.9) scale(1.02,1.1)">4</text>
<text id="x2" transform="translate(247.6,331.9) scale(1.02,1.1)">3</text>
<text id="x3" transform="translate(320.1,331.9) scale(1.02,1.1)">2</text>
<text id="x4" transform="translate(392.6,331.9) scale(1.02,1.1)">1</text>
<text id="x5" transform="translate(465.1,331.9) scale(1.02,1.1)">0</text>
<text id="x6" transform="translate(537.6,331.9) scale(1.02,1.1)">-1</text>
</g>
<g font-weight="bold" fill="#000">
<text id="xt1" font-size="25.5" transform="translate(256.2,365.2)">log</text>
<text id="xt2" font-size="25.5" font-style="italic" transform="translate(291.6,365.2) scale(1.2,1)">f</text>
<text id="xt3" font-size="25.5" transform="translate(306,365.2)">,</text>
<text id="xt4" font-size="23" transform="translate(320.3,366) scale(1.11,1.17)">[Hz]</text>
</g>
<text id="yt" transform="translate(26.6,158.3) rotate(-90) scale(1.11,1)" font-size="21" font-weight="bold" text-anchor="middle">γ(τ), Ω cm<tspan font-size="12.5" dx="-1.2" dy="-2.2">2</tspan></text>
<!-- legend -->
<g fill="none">
<path d="M120 27.3H164" stroke="#bc43c9" stroke-width="4"/>
<path d="M266 27.7H311" stroke="#35998a" stroke-width="3.6"/>
<path d="M119.4 50.3H165" stroke="#bd8120" stroke-width="3.4" stroke-dasharray="25 10.3"/>
<path d="M267.4 50.1H310" stroke="#4282de" stroke-width="3" stroke-linecap="round" stroke-dasharray="5.8 6.9"/>
</g>
<g font-size="23" font-weight="bold">
<text id="lg0" x="168.5" y="35.2" fill="#b043c2">0.50 atm</text>
<text id="lg1" x="314.8" y="35.2" fill="#35998a">0.30 atm</text>
<text id="lg2" x="168.5" y="58.1" fill="#b8861c">0.10 atm</text>
<text id="lg3" x="314.8" y="58.1" fill="#3f88e0">0.03 atm</text>
</g>
<!-- inset -->
<rect x="180.4" y="68.4" width="217.4" height="127.1" fill="#fff"/>
<g clip-path="url(#ci)">
<path d="M178.2 142.3L179.0 140.4 179.7 138.5 180.4 136.5 181.2 134.6 181.9 132.6 182.6 130.7 183.3 128.7 184.1 126.8 184.8 124.8 185.5 122.9 186.2 121.0 187.0 119.1 187.7 117.2 188.4 115.3 189.2 113.4 189.9 111.5 190.6 109.7 191.3 107.8 192.1 106.1 192.8 104.4 193.5 102.8 194.2 101.2 195.0 99.7 195.7 98.2 196.4 96.7 197.1 95.3 197.9 93.9 198.6 92.5 199.3 91.3 200.1 90.2 200.8 89.2 201.5 88.4 202.2 87.7 203.0 87.0 203.7 86.3 204.4 85.6 205.1 84.9 205.9 84.3 206.6 83.8 207.3 83.3 208.1 82.8 208.8 82.5 209.5 82.2 210.2 82.1 211.0 82.0 211.7 82.1 212.4 82.3 213.1 82.6 213.9 83.0 214.6 83.5 215.3 84.1 216.0 84.7 216.8 85.4 217.5 86.1 218.2 86.9 219.0 87.7 219.7 88.4 220.4 89.3 221.1 90.3 221.9 91.4 222.6 92.7 223.3 93.9 224.0 95.2 224.8 96.5 225.5 97.7 226.2 98.9 227.0 100.0 227.7 101.1 228.4 102.3 229.1 103.4 229.9 104.5 230.6 105.7 231.3 106.9 232.0 108.1 232.8 109.4 233.5 110.7 234.2 112.0 235.0 113.4 235.7 114.8 236.4 116.3 237.1 117.8 237.9 119.4 238.6 121.0 239.3 122.7 240.0 124.5 240.8 126.4 241.5 128.4 242.2 130.4 242.9 132.4 243.7 134.4 244.4 136.5 245.1 138.5 245.9 140.5 246.6 142.6 247.3 144.7 248.0 146.8 248.8 148.9 249.5 150.9 250.2 153.0 250.9 155.0 251.7 156.9 252.4 158.8 253.1 160.7 253.9 162.6 254.6 164.5 255.3 166.3 256.0 168.0 256.8 169.6 257.5 171.1 258.2 172.4 258.9 173.8 259.7 175.1 260.4 176.3 261.1 177.5 261.9 178.6 262.6 179.6 263.3 180.6 264.0 181.5 264.8 182.4 265.5 183.3 266.2 184.2 266.9 185.0 267.7 185.8 268.4 186.5 269.1 187.2 269.8 187.8 270.6 188.4 271.3 188.9 272.0 189.3 272.8 189.7 273.5 190.1 274.2 190.5 274.9 190.8 275.7 191.2 276.4 191.4 277.1 191.7 277.8 191.9 278.6 192.0 279.3 192.0 280.0 192.0 280.8 192.0 281.5 191.9 282.2 191.8 282.9 191.7 283.7 191.6 284.4 191.4 285.1 191.3 285.8 191.2 286.6 191.0 287.3 190.8 288.0 190.7 288.7 190.5 289.5 190.2 290.2 190.0 290.9 189.7 291.7 189.4 292.4 189.0 293.1 188.7 293.8 188.4 294.6 188.0 295.3 187.7 296.0 187.4 296.7 187.0 297.5 186.6 298.2 186.2 298.9 185.8 299.7 185.4 300.4 184.9 301.1 184.5 301.8 184.0 302.6 183.6 303.3 183.2 304.0 182.7 304.7 182.3 305.5 181.9 306.2 181.5 306.9 181.1 307.7 180.7 308.4 180.3 309.1 179.9 309.8 179.5 310.6 179.1 311.3 178.7 312.0 178.4 312.7 178.0 313.5 177.7 314.2 177.4 314.9 177.1 315.6 176.9 316.4 176.7 317.1 176.4 317.8 176.2 318.6 176.0 319.3 175.8 320.0 175.6 320.7 175.5 321.5 175.3 322.2 175.2 322.9 175.2 323.6 175.1 324.4 175.2 325.1 175.3 325.8 175.5 326.6 175.7 327.3 176.0 328.0 176.3 328.7 176.6 329.5 176.9 330.2 177.2 330.9 177.6 331.6 178.0 332.4 178.4 333.1 178.9 333.8 179.4 334.6 179.9 335.3 180.4 336.0 181.0 336.7 181.5 337.5 182.1 338.2 182.7 338.9 183.5 339.6 184.2 340.4 185.0 341.1 185.8 341.8 186.6 342.5 187.3 343.3 188.0 344.0 188.5 344.7 189.0 345.5 189.4 346.2 189.9 346.9 190.3 347.6 190.7 348.4 191.1 349.1 191.5 349.8 191.8 350.5 192.1 351.3 192.4 352.0 192.7 352.7 192.9 353.5 193.0 354.2 193.2 354.9 193.3 355.6 193.4 356.4 193.4 357.1 193.5 357.8 193.6 358.5 193.7 359.3 193.7 360.0 193.8 360.7 193.8 361.4 193.9 362.2 193.9 362.9 194.0 363.6 194.0 364.4 194.0 365.1 194.1 365.8 194.1 366.5 194.2 367.3 194.2 368.0 194.3 368.7 194.3 369.4 194.4 370.2 194.5 370.9 194.5 371.6 194.6 372.4 194.6 373.1 194.7 373.8 194.8 374.5 194.8 375.3 194.9 376.0 194.9 376.7 195.0 377.4 195.0 378.2 195.1 378.9 195.1 379.6 195.2 380.4 195.2 381.1 195.3 381.8 195.3 382.5 195.3 383.3 195.4 384.0 195.4 384.7 195.4 385.4 195.5 386.2 195.5 386.9 195.5 387.6 195.5 388.3 195.3 389.1 194.6 389.8 193.6 390.5 192.3 391.3 190.8 392.0 188.8 392.7 185.4 393.4 179.9 394.2 169.6 394.9 159.5 395.6 149.5 396.3 141.2 397.1 133.8 397.8 126.7 398.5 119.8 399.3 113.5" fill="none" stroke="#bc43c9" stroke-width="4.2" stroke-linejoin="round" stroke-linecap="round"/>
<path d="M178.2 136.2L179.0 134.4 179.7 132.5 180.4 130.7 181.2 128.8 181.9 126.8 182.6 124.8 183.3 122.7 184.1 120.5 184.8 118.4 185.5 116.2 186.2 114.1 187.0 112.0 187.7 110.0 188.4 108.2 189.2 106.4 189.9 104.7 190.6 103.0 191.3 101.3 192.1 99.7 192.8 98.1 193.5 96.7 194.2 95.4 195.0 94.1 195.7 93.1 196.4 92.1 197.1 91.0 197.9 90.0 198.6 89.0 199.3 88.1 200.1 87.2 200.8 86.4 201.5 85.7 202.2 85.1 203.0 84.7 203.7 84.4 204.4 84.3 205.1 84.4 205.9 84.4 206.6 84.5 207.3 84.6 208.1 84.7 208.8 84.8 209.5 84.9 210.2 85.1 211.0 85.2 211.7 85.4 212.4 85.6 213.1 85.9 213.9 86.1 214.6 86.5 215.3 86.8 216.0 87.2 216.8 87.9 217.5 88.8 218.2 90.0 219.0 91.3 219.7 92.8 220.4 94.5 221.1 96.1 221.9 97.7 222.6 99.4 223.3 101.3 224.0 103.2 224.8 105.3 225.5 107.5 226.2 109.8 227.0 112.0 227.7 114.3 228.4 116.6 229.1 118.8 229.9 121.0 230.6 123.2 231.3 125.3 232.0 127.6 232.8 129.8 233.5 132.0 234.2 134.3 235.0 136.5 235.7 138.6 236.4 140.7 237.1 142.8 237.9 144.7 238.6 146.6 239.3 148.4 240.0 150.2 240.8 151.9 241.5 153.6 242.2 155.2 242.9 156.8 243.7 158.3 244.4 159.8 245.1 161.3 245.9 162.7 246.6 164.1 247.3 165.4 248.0 166.7 248.8 168.0 249.5 169.2 250.2 170.4 250.9 171.5 251.7 172.6 252.4 173.6 253.1 174.5 253.9 175.5 254.6 176.3 255.3 177.2 256.0 178.0 256.8 178.7 257.5 179.5 258.2 180.2 258.9 180.9 259.7 181.5 260.4 182.1 261.1 182.7 261.9 183.3 262.6 183.9 263.3 184.5 264.0 185.1 264.8 185.6 265.5 186.2 266.2 186.7 266.9 187.1 267.7 187.5 268.4 187.9 269.1 188.2 269.8 188.5 270.6 188.8 271.3 189.0 272.0 189.2 272.8 189.4 273.5 189.7 274.2 189.9 274.9 190.0 275.7 190.2 276.4 190.4 277.1 190.5 277.8 190.6 278.6 190.7 279.3 190.8 280.0 190.8 280.8 190.8 281.5 190.8 282.2 190.8 282.9 190.8 283.7 190.8 284.4 190.8 285.1 190.8 285.8 190.8 286.6 190.8 287.3 190.8 288.0 190.8 288.7 190.8 289.5 190.8 290.2 190.8 290.9 190.8 291.7 190.8 292.4 190.7 293.1 190.6 293.8 190.5 294.6 190.4 295.3 190.3 296.0 190.1 296.7 189.9 297.5 189.8 298.2 189.6 298.9 189.5 299.7 189.3 300.4 189.2 301.1 189.0 301.8 188.8 302.6 188.7 303.3 188.5 304.0 188.3 304.7 188.1 305.5 187.9 306.2 187.7 306.9 187.5 307.7 187.3 308.4 187.1 309.1 186.9 309.8 186.7 310.6 186.5 311.3 186.3 312.0 186.1 312.7 186.0 313.5 185.8 314.2 185.6 314.9 185.4 315.6 185.2 316.4 185.0 317.1 184.9 317.8 184.7 318.6 184.5 319.3 184.3 320.0 184.1 320.7 183.9 321.5 183.7 322.2 183.5 322.9 183.3 323.6 183.1 324.4 182.8 325.1 182.6 325.8 182.3 326.6 182.1 327.3 181.9 328.0 181.6 328.7 181.4 329.5 181.2 330.2 181.0 330.9 180.9 331.6 180.8 332.4 180.7 333.1 180.7 333.8 180.7 334.6 180.7 335.3 180.7 336.0 180.8 336.7 180.8 337.5 180.8 338.2 180.9 338.9 180.9 339.6 181.0 340.4 181.0 341.1 181.1 341.8 181.2 342.5 181.4 343.3 181.7 344.0 182.0 344.7 182.4 345.5 182.9 346.2 183.3 346.9 183.7 347.6 184.2 348.4 184.7 349.1 185.3 349.8 185.9 350.5 186.5 351.3 187.1 352.0 187.7 352.7 188.3 353.5 188.8 354.2 189.3 354.9 189.8 355.6 190.4 356.4 190.9 357.1 191.4 357.8 191.9 358.5 192.3 359.3 192.7 360.0 193.0 360.7 193.2 361.4 193.3 362.2 193.5 362.9 193.7 363.6 193.8 364.4 193.9 365.1 194.0 365.8 194.1 366.5 194.2 367.3 194.3 368.0 194.3 368.7 194.3 369.4 194.3 370.2 194.3 370.9 194.3 371.6 194.3 372.4 194.3 373.1 194.3 373.8 194.3 374.5 194.3 375.3 194.3 376.0 194.3 376.7 194.4 377.4 194.4 378.2 194.5 378.9 194.5 379.6 194.6 380.4 194.7 381.1 194.9 381.8 195.0 382.5 195.1 383.3 195.2 384.0 195.3 384.7 195.4 385.4 195.4 386.2 195.5 386.9 195.5 387.6 195.3 388.3 194.8 389.1 194.0 389.8 193.1 390.5 192.0 391.3 190.5 392.0 188.1 392.7 185.0 393.4 179.9 394.2 172.8 394.9 165.5 395.6 158.9 396.3 152.0 397.1 143.8 397.8 134.1 398.5 124.3 399.3 115.8" fill="none" stroke="#35998a" stroke-width="3.9" stroke-linejoin="round" stroke-linecap="round"/>
<path d="M178.2 163.3L179.0 160.8 179.7 158.4 180.4 156.1 181.2 153.8 181.9 151.4 182.6 148.9 183.3 146.1 184.1 143.1 184.8 139.3 185.5 134.7 186.2 130.3 187.0 126.8 187.7 124.3 188.4 122.2 189.2 120.3 189.9 118.5 190.6 116.9 191.3 115.4 192.1 113.7 192.8 112.0 193.5 110.0 194.2 107.7 195.0 105.1 195.7 102.4 196.4 99.9 197.1 97.9 197.9 96.2 198.6 94.6 199.3 93.1 200.1 91.7 200.8 90.3 201.5 88.9 202.2 87.3 203.0 85.7 203.7 84.1 204.4 82.6 205.1 81.1 205.9 79.7 206.6 78.5 207.3 77.2 208.1 75.9 208.8 74.7 209.5 73.5 210.2 72.6 211.0 71.9 211.7 71.6 212.4 71.6 213.1 71.6 213.9 71.8 214.6 72.0 215.3 72.3 216.0 72.5 216.8 72.9 217.5 73.3 218.2 73.8 219.0 74.4 219.7 75.0 220.4 75.7 221.1 76.4 221.9 77.1 222.6 78.0 223.3 78.9 224.0 79.8 224.8 80.9 225.5 82.0 226.2 83.2 227.0 84.4 227.7 85.7 228.4 87.1 229.1 88.4 229.9 89.9 230.6 91.5 231.3 93.2 232.0 95.1 232.8 97.1 233.5 99.1 234.2 101.1 235.0 102.9 235.7 104.7 236.4 106.5 237.1 108.2 237.9 110.0 238.6 111.7 239.3 113.4 240.0 115.2 240.8 117.0 241.5 118.8 242.2 120.6 242.9 122.5 243.7 124.5 244.4 126.5 245.1 128.7 245.9 131.0 246.6 133.2 247.3 135.4 248.0 137.5 248.8 139.7 249.5 141.8 250.2 143.8 250.9 145.9 251.7 147.9 252.4 149.8 253.1 151.6 253.9 153.3 254.6 154.8 255.3 156.3 256.0 157.7 256.8 159.1 257.5 160.5 258.2 161.8 258.9 163.3 259.7 164.8 260.4 166.4 261.1 168.2 261.9 170.1 262.6 172.1 263.3 174.0 264.0 175.9 264.8 177.8 265.5 179.7 266.2 181.4 266.9 182.8 267.7 184.1 268.4 185.3 269.1 186.4 269.8 187.5 270.6 188.5 271.3 189.4 272.0 190.1 272.8 190.7 273.5 191.3 274.2 191.8 274.9 192.3 275.7 192.8 276.4 193.2 277.1 193.5 277.8 193.8 278.6 193.9 279.3 194.0 280.0 194.0 280.8 193.9 281.5 193.7 282.2 193.6 282.9 193.4 283.7 193.1 284.4 192.9 285.1 192.6 285.8 192.3 286.6 191.9 287.3 191.6 288.0 191.2 288.7 190.8 289.5 190.4 290.2 189.9 290.9 189.3 291.7 188.6 292.4 187.8 293.1 186.9 293.8 186.0 294.6 185.1 295.3 184.1 296.0 183.1 296.7 182.1 297.5 181.1 298.2 180.1 298.9 179.1 299.7 178.1 300.4 177.2 301.1 176.2 301.8 175.2 302.6 174.1 303.3 173.0 304.0 171.8 304.7 170.7 305.5 169.5 306.2 168.4 306.9 167.3 307.7 166.2 308.4 165.1 309.1 164.1 309.8 163.2 310.6 162.3 311.3 161.5 312.0 160.9 312.7 160.3 313.5 159.8 314.2 159.2 314.9 158.7 315.6 158.3 316.4 157.9 317.1 157.7 317.8 157.6 318.6 157.6 319.3 157.8 320.0 158.2 320.7 158.7 321.5 159.2 322.2 159.8 322.9 160.3 323.6 160.9 324.4 161.6 325.1 162.4 325.8 163.3 326.6 164.2 327.3 165.1 328.0 166.2 328.7 167.2 329.5 168.3 330.2 169.5 330.9 170.6 331.6 171.8 332.4 173.0 333.1 174.2 333.8 175.4 334.6 176.5 335.3 177.8 336.0 179.1 336.7 180.6 337.5 182.2 338.2 183.7 338.9 185.2 339.6 186.5 340.4 187.7 341.1 188.7 341.8 189.5 342.5 190.1 343.3 190.7 344.0 191.2 344.7 191.8 345.5 192.3 346.2 192.7 346.9 193.1 347.6 193.5 348.4 193.8 349.1 194.0 349.8 194.2 350.5 194.3 351.3 194.4 352.0 194.5 352.7 194.6 353.5 194.7 354.2 194.8 354.9 194.8 355.6 194.9 356.4 195.0 357.1 195.0 357.8 195.1 358.5 195.1 359.3 195.2 360.0 195.2 360.7 195.3 361.4 195.3 362.2 195.3 362.9 195.4 363.6 195.4 364.4 195.4 365.1 195.5 365.8 195.5 366.5 195.5 367.3 195.5 368.0 195.5 368.7 195.5 369.4 195.5 370.2 195.5 370.9 195.5 371.6 195.5 372.4 195.5 373.1 195.5 373.8 195.5 374.5 195.4 375.3 195.2 376.0 194.9 376.7 194.4 377.4 193.9 378.2 193.3 378.9 192.5 379.6 191.7 380.4 190.8 381.1 189.8 381.8 188.0 382.5 185.7 383.3 183.1 384.0 180.4 384.7 177.9 385.4 175.2 386.2 172.4 386.9 169.4 387.6 166.2 388.3 162.6 389.1 158.6 389.8 154.2 390.5 149.6 391.3 144.7 392.0 139.1 392.7 133.1 393.4 127.8 394.2 123.1 394.9 118.7 395.6 114.4 396.3 110.0 397.1 105.3 397.8 100.1 398.5 94.2 399.3 87.7" fill="none" stroke="#bd8120" stroke-width="3.5" stroke-linejoin="round" stroke-linecap="butt" stroke-dasharray="24 10.5"/>
<path d="M178.2 193.7L179.0 192.5 179.7 191.0 180.4 189.4 181.2 187.6 181.9 185.5 182.6 183.1 183.3 180.5 184.1 178.1 184.8 175.7 185.5 173.4 186.2 171.1 187.0 168.8 187.7 166.5 188.4 164.1 189.2 161.7 189.9 159.3 190.6 156.7 191.3 154.1 192.1 151.5 192.8 149.0 193.5 146.6 194.2 144.2 195.0 141.9 195.7 139.6 196.4 137.3 197.1 135.0 197.9 132.6 198.6 130.2 199.3 127.8 200.1 125.3 200.8 122.9 201.5 120.5 202.2 118.2 203.0 115.9 203.7 113.7 204.4 111.4 205.1 109.2 205.9 107.0 206.6 104.8 207.3 102.4 208.1 100.1 208.8 97.9 209.5 95.9 210.2 94.2 211.0 92.8 211.7 91.6 212.4 90.5 213.1 89.5 213.9 88.6 214.6 87.7 215.3 86.8 216.0 86.0 216.8 85.1 217.5 84.3 218.2 83.7 219.0 83.2 219.7 82.9 220.4 82.8 221.1 82.8 221.9 82.8 222.6 82.8 223.3 82.8 224.0 82.8 224.8 82.8 225.5 82.9 226.2 83.2 227.0 83.6 227.7 84.2 228.4 84.9 229.1 85.5 229.9 86.2 230.6 87.0 231.3 87.8 232.0 88.7 232.8 89.7 233.5 90.8 234.2 91.9 235.0 93.1 235.7 94.3 236.4 95.5 237.1 96.9 237.9 98.3 238.6 99.8 239.3 101.3 240.0 102.8 240.8 104.4 241.5 106.0 242.2 107.6 242.9 109.2 243.7 110.8 244.4 112.3 245.1 113.9 245.9 115.5 246.6 117.1 247.3 118.7 248.0 120.3 248.8 121.9 249.5 123.6 250.2 125.2 250.9 126.8 251.7 128.4 252.4 130.0 253.1 131.6 253.9 133.2 254.6 134.8 255.3 136.5 256.0 138.2 256.8 139.9 257.5 141.7 258.2 143.6 258.9 145.4 259.7 147.2 260.4 148.9 261.1 150.7 261.9 152.4 262.6 154.1 263.3 155.8 264.0 157.4 264.8 159.0 265.5 160.4 266.2 161.8 266.9 163.1 267.7 164.4 268.4 165.7 269.1 166.9 269.8 168.1 270.6 169.3 271.3 170.5 272.0 171.7 272.8 172.9 273.5 174.1 274.2 175.2 274.9 176.4 275.7 177.4 276.4 178.4 277.1 179.3 277.8 180.1 278.6 180.9 279.3 181.5 280.0 182.2 280.8 182.8 281.5 183.4 282.2 183.9 282.9 184.4 283.7 184.9 284.4 185.4 285.1 185.9 285.8 186.3 286.6 186.8 287.3 187.2 288.0 187.7 288.7 188.1 289.5 188.4 290.2 188.8 290.9 189.1 291.7 189.3 292.4 189.5 293.1 189.7 293.8 189.9 294.6 190.1 295.3 190.2 296.0 190.4 296.7 190.5 297.5 190.7 298.2 190.7 298.9 190.8 299.7 190.8 300.4 190.8 301.1 190.8 301.8 190.8 302.6 190.7 303.3 190.7 304.0 190.6 304.7 190.5 305.5 190.4 306.2 190.3 306.9 190.3 307.7 190.2 308.4 190.1 309.1 190.1 309.8 190.0 310.6 190.0 311.3 190.0 312.0 190.0 312.7 190.1 313.5 190.1 314.2 190.1 314.9 190.1 315.6 190.2 316.4 190.2 317.1 190.2 317.8 190.3 318.6 190.3 319.3 190.4 320.0 190.5 320.7 190.7 321.5 190.8 322.2 191.0 322.9 191.2 323.6 191.3 324.4 191.5 325.1 191.7 325.8 191.9 326.6 192.0 327.3 192.2 328.0 192.4 328.7 192.7 329.5 192.9 330.2 193.1 330.9 193.3 331.6 193.5 332.4 193.6 333.1 193.8 333.8 194.0 334.6 194.1 335.3 194.3 336.0 194.4 336.7 194.6 337.5 194.7 338.2 194.9 338.9 195.0 339.6 195.2 340.4 195.3 341.1 195.4 341.8 195.4 342.5 195.5 343.3 195.5 344.0 195.5 344.7 195.5 345.5 195.5 346.2 195.5 346.9 195.5 347.6 195.5 348.4 195.5 349.1 195.5 349.8 195.5 350.5 195.5 351.3 195.5 352.0 195.5 352.7 195.5 353.5 195.5 354.2 195.5 354.9 195.5 355.6 195.5 356.4 195.5 357.1 195.5 357.8 195.5 358.5 195.5 359.3 195.5 360.0 195.5 360.7 195.5 361.4 195.5 362.2 195.5 362.9 195.5 363.6 195.5 364.4 195.5 365.1 195.5 365.8 195.5 366.5 195.5 367.3 195.5 368.0 195.5 368.7 195.5 369.4 195.5 370.2 195.5 370.9 195.5 371.6 195.5 372.4 195.5 373.1 195.5 373.8 195.5 374.5 195.5 375.3 195.5 376.0 195.5 376.7 195.5 377.4 195.5 378.2 195.5 378.9 195.5 379.6 195.5 380.4 195.5 381.1 195.5 381.8 195.5 382.5 195.5 383.3 195.5 384.0 195.5 384.7 195.5 385.4 195.5 386.2 195.0 386.9 193.8 387.6 191.8 388.3 189.4 389.1 185.5 389.8 178.3 390.5 171.3 391.3 164.9 392.0 158.5 392.7 152.2 393.4 145.9 394.2 139.3 394.9 132.4 395.6 125.3 396.3 117.9 397.1 110.3 397.8 102.4 398.5 94.2 399.3 85.7" fill="none" stroke="#4282de" stroke-width="3.4" stroke-linejoin="round" stroke-linecap="round" stroke-dasharray="5.6 7.2"/>
</g>
<g stroke="#000" stroke-width="2" fill="none" stroke-linejoin="round">
<path d="M180.4 195.5V68.4H397.8V195.5H180.4"/>
<path d="M175.2 90.7H180.4M175.2 125.6H180.4M175.2 160.6H180.4M175.2 195.5H180.4"/>
<path d="M179.7 195.5V200M252.4 195.5V200M325.1 195.5V200M397.8 195.5V200"/>
</g>
<g font-size="16.5" text-anchor="end" fill="#000" stroke="#000" stroke-width="0.25">
<text id="iy0" transform="translate(166.3,97.4) scale(1,1.05)">0.009</text>
<text id="iy1" transform="translate(166.3,132.3) scale(1,1.05)">0.006</text>
<text id="iy2" transform="translate(166.3,167.3) scale(1,1.05)">0.003</text>
<text id="iy3" transform="translate(166.3,202.2) scale(1,1.05)">0.000</text>
</g>
<g font-size="16" text-anchor="middle" fill="#000" stroke="#000" stroke-width="0.25">
<text id="ix0" x="179.7" y="221.4">4</text>
<text id="ix1" x="252.4" y="221.4">3</text>
<text id="ix2" x="325.1" y="221.4">2</text>
<text id="ix3" x="397.8" y="221.4">1</text>
</g>
</svg>
</body></html>
